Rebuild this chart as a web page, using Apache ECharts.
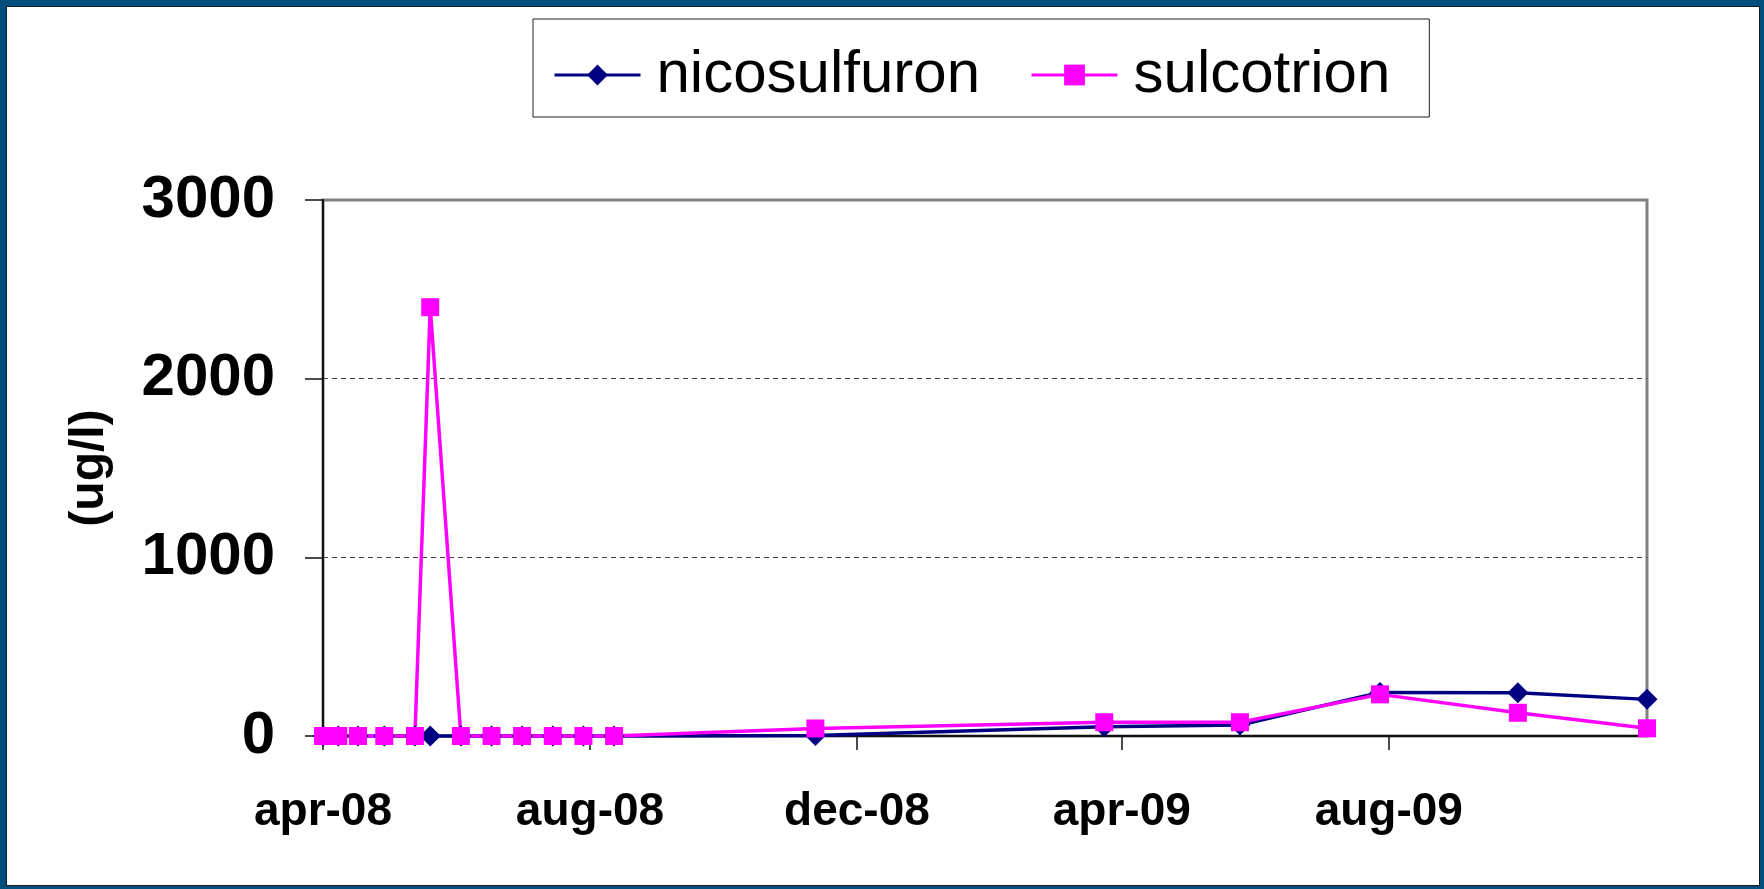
<!DOCTYPE html>
<html>
<head>
<meta charset="utf-8">
<title>nicosulfuron / sulcotrion</title>
<script src="https://cdn.jsdelivr.net/npm/echarts@6/dist/echarts.min.js"></script>
<style>
  html, body { margin: 0; padding: 0; background: #fff; }
  #myChart { position: absolute; left: 0; top: 0; width: 1764px; height: 889px; }
  /* dark blue slide frame around the chart */
  #frame {
    position: absolute; left: 0; top: 0; width: 1764px; height: 889px;
    box-sizing: border-box; border-style: solid; border-color: #014d7b;
    border-width: 6px 4px 3px 6px; box-shadow: inset 0 0 0 1px #1c1c1c;
    pointer-events: none;
  }
</style>
</head>
<body>
<div id="myChart"></div>
<div id="frame"></div>
<script>
  // sampling dates
  var dates = [
    '2008-04-01', '2008-04-08', '2008-04-17', '2008-04-29', '2008-05-13', '2008-05-20',
    '2008-06-03', '2008-06-17', '2008-07-01', '2008-07-15', '2008-07-29', '2008-08-12',
    '2008-11-12', '2009-03-24', '2009-05-25', '2009-07-28', '2009-09-29', '2009-11-27'
  ];
  // ug/l
  var nicosulfuron = [0, 0, 0, 0, 0, 0, 0, 0, 0, 0, 0, 0, 3, 52, 62, 244, 242, 205];
  var sulcotrion = [0, 0, 0, 0, 0, 2400, 0, 0, 0, 0, 0, 0, 42, 77, 77, 233, 130, 43];

  var seriesNames = ['nicosulfuron', 'sulcotrion'];
  var tickDates = ['2008-04-01', '2008-08-01', '2008-12-01', '2009-04-01', '2009-08-01'];
  var tickLabels = ['apr-08', 'aug-08', 'dec-08', 'apr-09', 'aug-09'];
  var yMin = 0, yMax = 3000, yStep = 1000;

  // dates as plain timestamps, the x axis is a value axis over them
  function toTs(s) {
    var p = s.split('-');
    return Date.UTC(+p[0], +p[1] - 1, +p[2]);
  }
  var tickValues = tickDates.map(toTs);

  function pairs(vals) {
    return dates.map(function (d, i) { return [toTs(d), vals[i]]; });
  }

  var font = 'Arial, "Liberation Sans", sans-serif';
  var myChart = echarts.init(document.getElementById('myChart'));

  var option = {
    animation: false,
    backgroundColor: '#fff',
    legend: {
      left: 533,
      top: 19,
      padding: [26, 39, 12, 20],
      itemWidth: 86,
      itemHeight: 26,
      itemGap: 50,
      borderColor: '#222',
      borderWidth: 1,
      data: seriesNames,
      lineStyle: { width: 3 },
      textStyle: {
        color: '#000',
        fontFamily: font,
        fontSize: 60,
        padding: [0, 0, 0, 11]
      }
    },
    grid: {
      left: 323,
      top: 200,
      right: 117,
      bottom: 153,
      containLabel: false,
      outerBoundsMode: 'none',
      show: true,
      borderColor: '#808080',
      borderWidth: 3
    },
    xAxis: {
      type: 'value',
      min: toTs(dates[0]),
      max: toTs(dates[dates.length - 1]),
      axisLine: { show: true, onZero: false, lineStyle: { color: '#111', width: 2 } },
      axisTick: {
        show: true,
        length: 14,
        customValues: tickValues,
        lineStyle: { color: '#111', width: 1.5 }
      },
      axisLabel: {
        customValues: tickValues,
        margin: 53,
        color: '#000',
        fontFamily: font,
        fontSize: 46,
        fontWeight: 'bold',
        formatter: function (value) {
          for (var i = 0; i < tickValues.length; i++) {
            if (Math.abs(tickValues[i] - value) < 86400000) return tickLabels[i];
          }
          return '';
        }
      },
      splitLine: { show: false }
    },
    yAxis: {
      type: 'value',
      min: yMin,
      max: yMax,
      interval: yStep,
      name: '(ug/l)',
      nameLocation: 'middle',
      nameRotate: 90,
      nameGap: 209,
      nameTextStyle: { color: '#000', fontFamily: font, fontSize: 48, fontWeight: 'bold' },
      axisLine: { show: true, lineStyle: { color: '#111', width: 2 } },
      axisTick: { show: true, length: 18, lineStyle: { color: '#111', width: 1.5 } },
      axisLabel: {
        margin: 48,
        color: '#000',
        fontFamily: font,
        fontSize: 60,
        fontWeight: 'bold',
        formatter: function (value) { return String(value); }
      },
      splitLine: {
        show: true,
        // only the inner lines are dashed; 0 and 3000 sit on the frame
        lineStyle: {
          color: ['rgba(0,0,0,0)', '#444', '#444', 'rgba(0,0,0,0)'],
          type: [5, 4],
          width: 1
        }
      }
    },
    series: [
      {
        name: seriesNames[0],
        type: 'line',
        clip: false,
        symbol: 'diamond',
        symbolSize: 21,
        itemStyle: { color: '#000080' },
        lineStyle: { color: '#000080', width: 3.5 },
        data: pairs(nicosulfuron)
      },
      {
        name: seriesNames[1],
        type: 'line',
        clip: false,
        symbol: 'rect',
        symbolSize: 18,
        itemStyle: { color: '#ff00ff' },
        lineStyle: { color: '#ff00ff', width: 3.5 },
        data: pairs(sulcotrion)
      }
    ]
  };
  myChart.setOption(option);
</script>
</body>
</html>
